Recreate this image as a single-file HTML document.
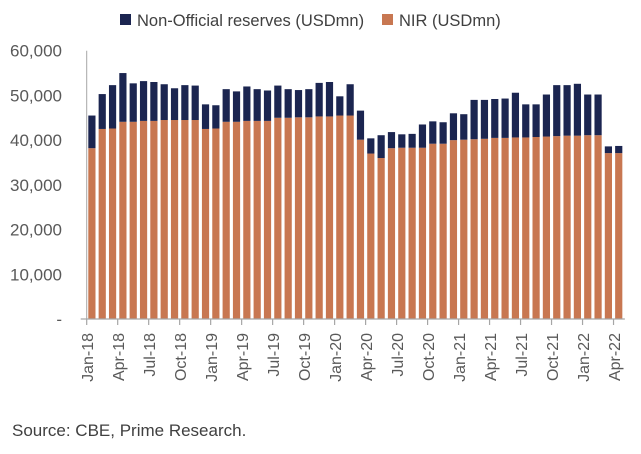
<!DOCTYPE html>
<html><head><meta charset="utf-8"><style>
body{margin:0;background:#fff;width:641px;height:449px;overflow:hidden}
svg{font-family:"Liberation Sans",sans-serif}
</style></head><body>
<svg id="c" width="641" height="449">
<g id="legend">
<rect x="120" y="14" width="11" height="11" fill="#1b2550"/>
<text x="137" y="26" font-size="16.5" fill="#404040">Non-Official reserves (USDmn)</text>
<rect x="382" y="14" width="11" height="11" fill="#c87751"/>
<text x="399" y="26" font-size="16.5" fill="#404040">NIR (USDmn)</text>
</g>
<text x="12" y="436" font-size="17" fill="#404040">Source: CBE, Prime Research.</text>
</svg>
<script>
const nir=[38.2,42.5,42.6,44.1,44.1,44.3,44.3,44.5,44.5,44.5,44.5,42.5,42.6,44.1,44.1,44.3,44.3,44.3,45.0,45.0,45.1,45.1,45.3,45.3,45.5,45.5,40.1,37.0,36.0,38.2,38.3,38.3,38.3,39.2,39.2,40.0,40.1,40.2,40.3,40.5,40.5,40.6,40.6,40.7,40.8,40.9,41.0,41.0,41.1,41.1,37.1,37.1];
const total=[45.5,50.3,52.3,55.0,52.7,53.2,53.0,52.5,51.6,52.3,52.2,48.0,47.8,51.4,50.9,52.0,51.4,51.1,52.2,51.4,51.2,51.4,52.8,53.0,49.8,52.5,46.6,40.4,41.1,41.8,41.3,41.4,43.5,44.2,44.0,46.0,45.8,49.0,49.0,49.2,49.3,50.6,48.0,48.0,50.2,52.3,52.3,52.6,50.2,50.2,38.6,38.7];
const yTicks=[0,10,20,30,40,50,60];
const yLabels=["-","10,000","20,000","30,000","40,000","50,000","60,000"];
const months=["Jan","Feb","Mar","Apr","May","Jun","Jul","Aug","Sep","Oct","Nov","Dec"];
const NS="http://www.w3.org/2000/svg",svg=document.getElementById('c');
const x0=86.7,pitch=10.33,y0=319,yTop=50.7;
const y=v=>y0-(v/60)*(y0-yTop);
const bx=i=>x0+i*pitch;
function mk(t,a,p){const e=document.createElementNS(NS,t);for(const k in a)e.setAttribute(k,a[k]);(p||svg).appendChild(e);return e;}
yTicks.forEach((t,i)=>{
 const tx=mk('text',{x:62,y:y(t)+6,'font-size':17,fill:'#595959','text-anchor':'end'});
 
 
 tx.textContent=yLabels[i];
});
const ax=mk('line',{x1:x0,y1:yTop,x2:x0,y2:y0,stroke:'#a6a6a6','stroke-width':1});


nir.forEach((v,i)=>{
 const r=mk('rect',{x:bx(i)+1.6,y:y(v),width:7.2,height:y0-y(v),fill:'#c87751'});
 
 
 const o=mk('rect',{x:bx(i)+1.6,y:y(total[i]),width:7.2,height:y(v)-y(total[i]),fill:'#1b2550'});
 
 
});
const xa=mk('line',{x1:x0-6,y1:y0,x2:bx(nir.length)+1,y2:y0,stroke:'#a6a6a6','stroke-width':1.2});


for(let i=0;i<nir.length;i+=3){
 const tk=mk('line',{x1:bx(i),y1:y0,x2:bx(i),y2:y0+6,stroke:'#a6a6a6','stroke-width':1.2});
 
 
 const cx=bx(i)+6.5,lab=months[i%12]+'-'+(18+Math.floor(i/12));
 const t=mk('text',{x:cx,y:333,'font-size':16,fill:'#595959','text-anchor':'end',transform:`rotate(-90 ${cx} 333)`});
 
 
 t.textContent=lab;
}
</script>
</body></html>
